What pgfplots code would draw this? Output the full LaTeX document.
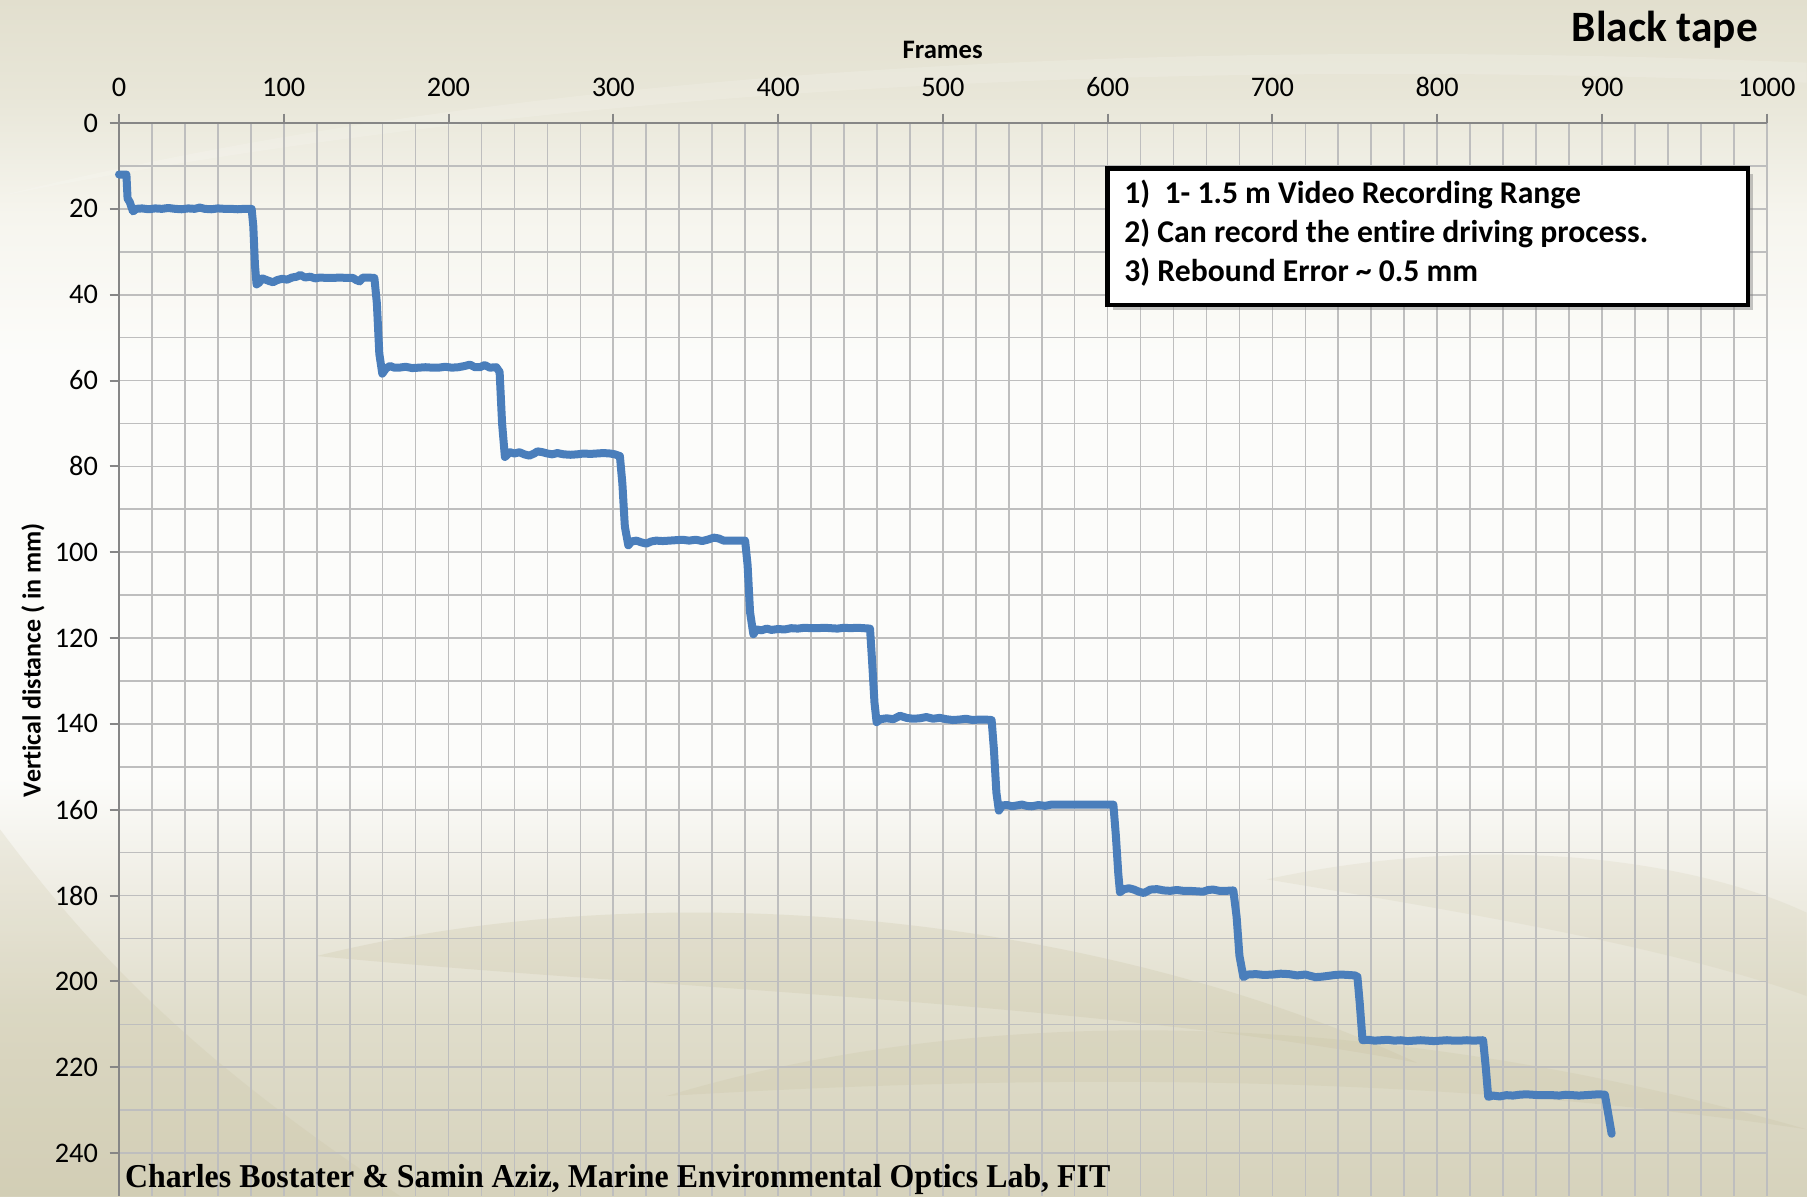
\documentclass[border=0pt]{standalone}
\usepackage{graphicx}
\usepackage{fontspec}
\setmainfont{Carlito}[Ligatures=NoCommon]
\newfontfamily\footfont{Liberation Serif}
\usepackage{pgfplots}
\pgfplotsset{compat=1.18}
\usetikzlibrary{shadows}

\definecolor{swirl}{RGB}{196,189,154}
\definecolor{gridc}{RGB}{190,190,190}
\definecolor{axc}{RGB}{134,134,134}
\definecolor{lineblue}{RGB}{74,126,187}

% slide background: beige at top and bottom, nearly white in the middle
\pgfdeclareverticalshading{slidebg}{100bp}{
  rgb(0bp)=(0.839,0.824,0.737);
  rgb(25bp)=(0.839,0.824,0.737);
  rgb(32.5bp)=(0.878,0.867,0.796);
  rgb(37.5bp)=(0.933,0.925,0.886);
  rgb(42.5bp)=(0.988,0.988,0.980);
  rgb(60bp)=(0.988,0.988,0.980);
  rgb(66bp)=(0.965,0.961,0.933);
  rgb(71bp)=(0.910,0.902,0.847);
  rgb(75bp)=(0.886,0.875,0.808);
  rgb(100bp)=(0.886,0.875,0.808)}

\begin{document}
\begin{tikzpicture}
\useasboundingbox (0,0) rectangle (542.1pt,358.8pt);
\shade[shading=slidebg] (0,0) rectangle (542.1pt,358.8pt);
\begin{scope}
  \clip (0,0) rectangle (542.1pt,358.8pt);
  \fill[swirl, opacity=0.22] (95pt,72pt) .. controls (200pt,98pt) and (330pt,84pt) .. (425pt,40pt)
        .. controls (330pt,58pt) and (200pt,62pt) .. cycle;
  \fill[swirl, opacity=0.20] (200pt,30pt) .. controls (300pt,60pt) and (420pt,55pt) .. (542pt,20pt)
        .. controls (420pt,38pt) and (300pt,36pt) .. cycle;
  \fill[swirl, opacity=0.18] (0pt,110pt) .. controls (30pt,70pt) and (60pt,40pt) .. (120pt,0pt)
        -- (0pt,0pt) -- cycle;
  \fill[swirl, opacity=0.15] (380pt,95pt) .. controls (450pt,110pt) and (510pt,100pt) .. (542pt,85pt)
        -- (542pt,60pt) .. controls (500pt,75pt) and (440pt,85pt) .. cycle;
  \fill[white, opacity=0.15] (0pt,300pt) .. controls (120pt,330pt) and (300pt,350pt) .. (542pt,340pt)
        -- (542pt,334pt) .. controls (300pt,344pt) and (120pt,324pt) .. cycle;
\end{scope}

\begin{axis}[
  at={(35.7pt,0pt)}, anchor=south west,
  width=494.3pt, height=321.9pt, scale only axis,
  xmin=0, xmax=1000, ymin=0, ymax=250, y dir=reverse,
  axis x line*=top, axis y line*=left,
  xtick={0,100,...,1000}, ytick={0,20,...,240},
  minor xtick={0,20,...,1000}, minor ytick={10,30,...,230},
  grid=both,
  major grid style={gridc, line width=0.5pt},
  minor grid style={gridc, line width=0.5pt},
  tick align=outside, major tick length=2.8pt, minor tick length=0pt,
  every tick/.style={axc, line width=0.6pt},
  axis line style={axc, line width=0.6pt},
  tick label style={font=\fontsize{8.5}{10}\selectfont},
  xticklabel style={yshift=1.7pt},
  /pgf/number format/assume math mode=true,
  /pgf/number format/1000 sep={},
  clip=false,
]
\addplot[lineblue, line width=2.4pt, line join=round, line cap=round] coordinates {
(0,12) (2,12) (4.5,12) (5.2,17.6) (6.5,18.4) (8.5,20.6) (10.5,20.0) (14,19.9) (18,20.1) (22,19.9)
(26,20.0) (30,19.8) (34,20.0) (38,20.1) (42,19.9) (46,20.0) (49,19.7) (52,20.0) (56,20.1) (60,19.9)
(64,20.0) (68,20.0) (72,20.1) (76,20.0) (80.5,20.0)
(81.5,24) (82.5,33) (83.5,37.6) (85,37.2) (87,36.2) (89,36.5) (91,36.8) (93.5,37.1) (96,36.6) (99,36.3)
(102,36.5) (105,36.0) (108,35.8) (110,35.4) (113,36.0) (116,35.8) (119,36.2) (122,36.0) (126,36.1)
(130,36.1) (134,36.0) (138,36.1) (142,36.1) (144,36.6) (146,36.9) (148,36.0) (151,36.0) (155,36.1)
(156.5,42) (158,53.8) (159.8,58.4) (162,57.2) (164.5,56.6) (167,57.0) (170,57.0) (174,56.8) (178,57.1)
(182,57.0) (186,56.9) (190,57.0) (194,57.0) (198,56.8) (202,57.0) (206,56.9) (210,56.6) (213,56.3)
(216,56.9) (219,56.9) (222,56.4) (225,57.0) (229,56.9)
(231,58) (232.5,70) (234.2,77.8) (237.3,76.7) (240,77.0) (243,76.7) (246,77.2) (249,77.5) (252,77.0)
(254,76.5) (257,76.7) (260,77.0) (263,77.2) (266,76.9) (270,77.2) (274,77.3) (278,77.2) (282,77.0)
(286,77.1) (290,77.0) (294,76.9) (298,77.0) (301,77.2) (304,77.6)
(305.5,84) (307,94) (309.1,98.4) (311,97.5) (314,97.3) (317,97.7) (320,98.0) (323,97.5) (326,97.3)
(330,97.4) (334,97.3) (338,97.2) (342,97.1) (346,97.3) (350,97.1) (354,97.4) (358,97.0) (361,96.6)
(364,96.8) (367,97.3) (371,97.3) (375,97.3) (380,97.3)
(381.5,103) (383,114) (385,119.1) (387,118.0) (390,118.2) (393,117.8) (396,118.1) (400,117.9)
(404,118.0) (408,117.7) (412,117.8) (416,117.6) (420,117.7) (424,117.7) (428,117.6) (432,117.7)
(436,117.8) (440,117.6) (444,117.7) (448,117.6) (452,117.7) (455.8,117.8)
(457,125) (458.5,135) (459.8,139.6) (462,138.9) (466,138.7) (470,138.9) (474,138.1) (478,138.6)
(482,138.8) (486,138.7) (490,138.4) (494,138.8) (498,138.6) (502,138.9) (506,139.1) (510,139.0)
(514,138.8) (518,139.1) (522,139.0) (526,139.0) (529.6,139.1)
(531,146) (532.5,156) (534,160.2) (536,159.0) (539,158.9) (542,159.2) (545,159.0) (548,158.8)
(551,159.1) (554,159.2) (558,158.9) (562,159.1) (566,158.8) (570,158.8) (575,158.8) (580,158.8)
(585,158.8) (590,158.8) (595,158.8) (600,158.8) (603.5,158.8)
(605,166) (606.5,175) (607.5,179.2) (610,178.5) (613,178.3) (616,178.6) (619,179.1) (622,179.4)
(626,178.6) (630,178.5) (634,178.8) (638,178.9) (642,178.7) (646,178.9) (650,178.9) (654,179.0)
(658,179.1) (661,178.7) (664,178.6) (668,178.9) (672,178.9) (676.3,178.8)
(678.3,185) (680,194) (682.4,199.0) (685,198.4) (690,198.3) (695,198.5) (700,198.4) (705,198.2)
(710,198.3) (715,198.6) (720,198.4) (726,199.0) (730,198.9) (734,198.7) (738,198.5) (742,198.4)
(746,198.5) (750,198.6) (751.6,198.9)
(753,205) (754.7,213.7) (758,213.6) (762,213.8) (766,213.7) (770,213.6) (774,213.8) (778,213.7)
(782,213.9) (786,213.8) (790,213.7) (794,213.8) (798,213.9) (802,213.8) (806,213.7) (810,213.8)
(814,213.8) (818,213.7) (822,213.8) (827.9,213.7)
(829.5,220) (831,226.9) (834,226.6) (838,226.8) (842,226.5) (846,226.6) (850,226.4) (854,226.3)
(858,226.4) (862,226.5) (866,226.5) (870,226.5) (874,226.6) (878,226.4) (882,226.5) (886,226.6)
(890,226.5) (894,226.4) (898,226.3) (901.8,226.4)
(903,229) (905.9,235.5)
};
\end{axis}

% axis titles
\node[font=\bfseries\fontsize{8}{10}\selectfont] at (282.8pt,343.9pt) {Frames};
\node[rotate=90, font=\bfseries\fontsize{7.8}{9}\selectfont] at (9.9pt,160.8pt) {Vertical distance ( in mm)};
\node[anchor=east, font=\bfseries\fontsize{13}{15}\selectfont] at (530.9pt,349.8pt) {Black tape};

% notes box
\node[draw=black, line width=1.4pt, fill=white, inner sep=0pt, anchor=north west,
      minimum width=192.1pt, minimum height=40.9pt,
      drop shadow={shadow xshift=1.5pt, shadow yshift=-1.5pt, opacity=0.45}]
      at (331.6pt,308.9pt) {};
\begin{scope}[every node/.style={anchor=base west, inner sep=0pt, font=\bfseries\fontsize{9.5}{11}\selectfont}]
  \node at (337.1pt,297.7pt) {1)\ \ 1- 1.5 m Video Recording Range};
  \node at (337.1pt,286.0pt) {2) Can record the entire driving process.};
  \node at (337.1pt,274.2pt) {3) Rebound Error \textasciitilde{} 0.5 mm};
\end{scope}

% credit line
\node[anchor=base west, inner sep=0pt] at (37.3pt,2.7pt)
  {\resizebox{295.6pt}{\height}{\footfont\bfseries Charles Bostater \& Samin Aziz, Marine Environmental Optics Lab, FIT}};
\end{tikzpicture}
\end{document}
